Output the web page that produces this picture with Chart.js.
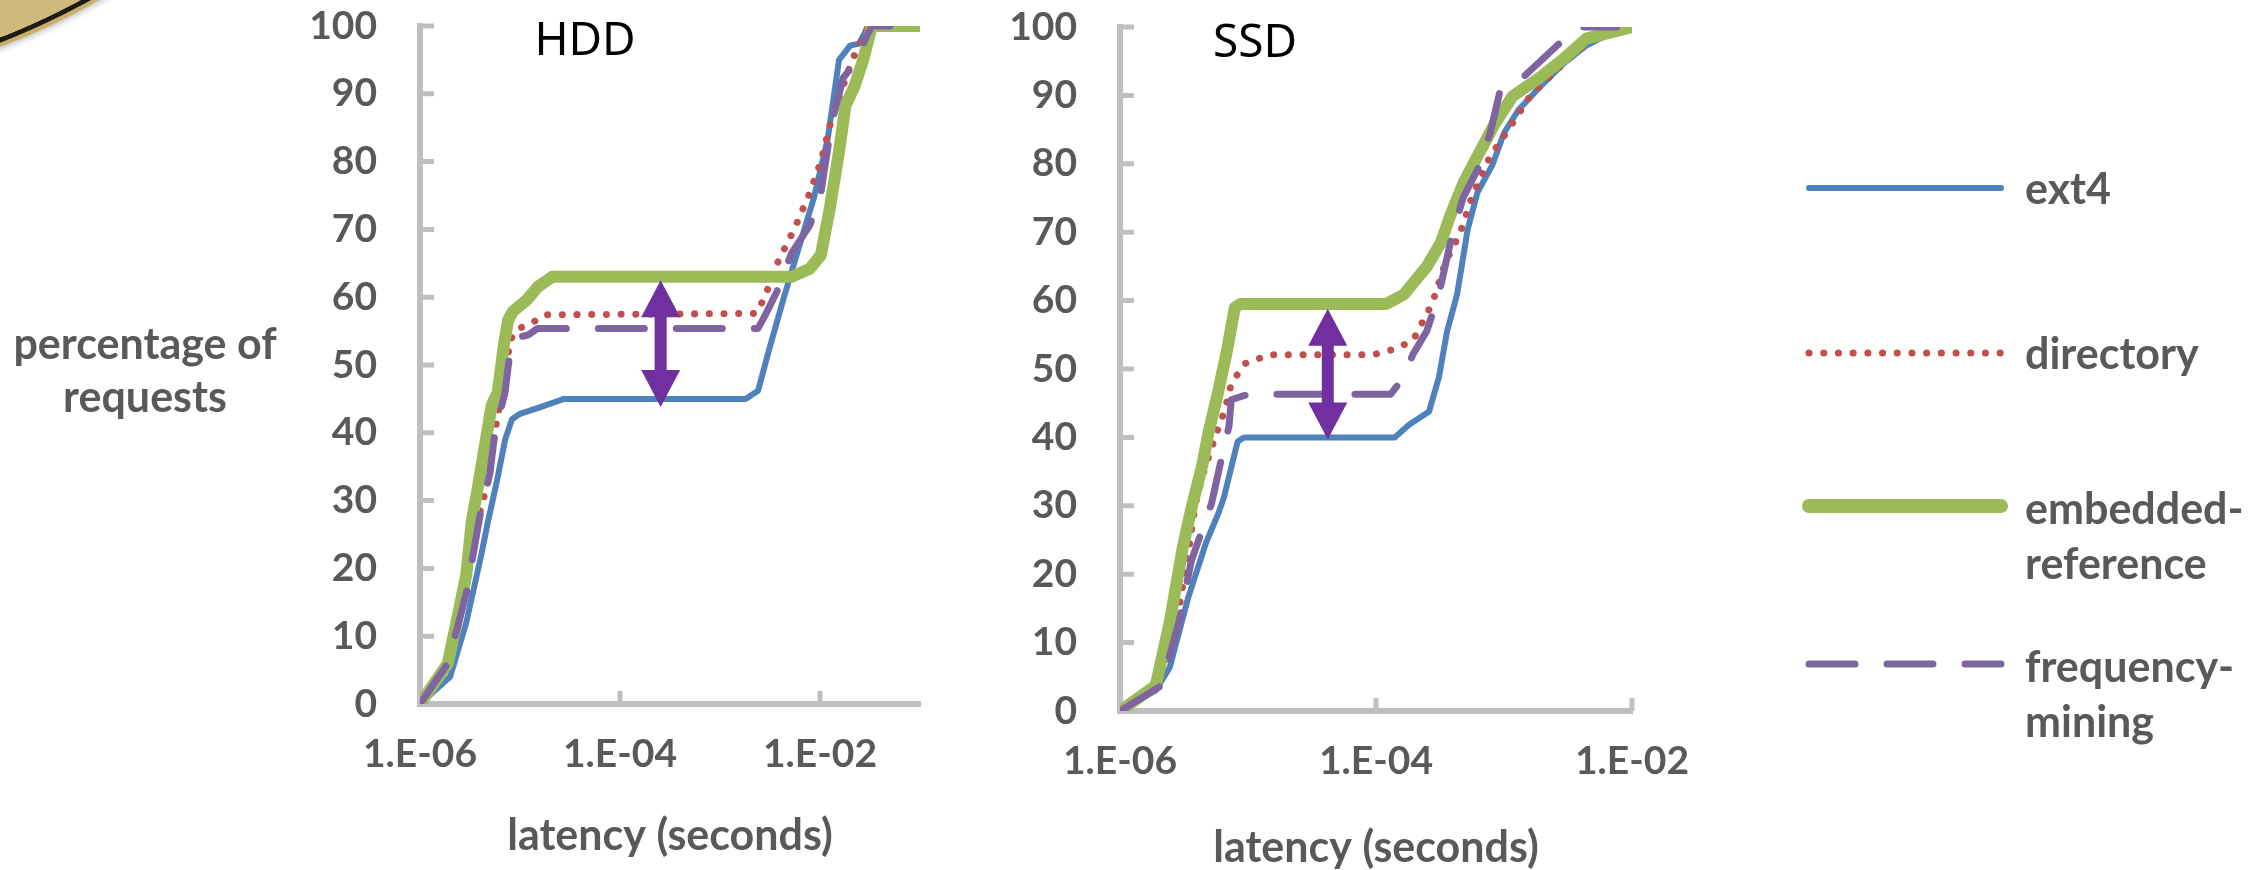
<!DOCTYPE html>
<html>
<head>
<meta charset="utf-8">
<script src="https://cdn.jsdelivr.net/npm/chart.js@4.4.1/dist/chart.umd.min.js"></script>
<style>
html,body{margin:0;padding:0;background:#fff;}
#page{position:relative;width:2258px;height:870px;overflow:hidden;font-family:Lato,sans-serif;}
#coin{position:absolute;left:-973px;top:-1342px;width:1428px;height:1428px;border-radius:50%;
  background:radial-gradient(circle at 60% 60%,#d9c68c 0%,#c4ac6a 90%,#b59a55 100%);
  box-shadow:0 0 0 5px #1c1a14,0 0 0 9px #c9b06a,0 0 6px 11px rgba(0,0,0,0.25);}
canvas{position:absolute;top:0;}
#hdd{left:250px;}
#ssd{left:1000px;}
.ttl{position:absolute;font-family:"Noto Sans",sans-serif;font-size:46px;line-height:1;color:#000;transform:translate(-50%,-50%);}
#ylab{position:absolute;left:145px;top:369px;transform:translate(-50%,-50%);text-align:center;font-weight:bold;font-size:43px;line-height:53px;color:#595959;white-space:nowrap;}
.lg{position:absolute;left:2025px;font-weight:bold;font-size:43px;line-height:55px;color:#595959;white-space:nowrap;}
#legsvg{position:absolute;left:0;top:0;}
</style>
</head>
<body>
<div id="page">
  <div id="coin"></div>
  <canvas id="hdd" width="750" height="870"></canvas>
  <canvas id="ssd" width="700" height="870"></canvas>
  <div class="ttl" style="left:585px;top:37px;">HDD</div>
  <div class="ttl" style="left:1255px;top:39px;">SSD</div>
  <div id="ylab">percentage of<br>requests</div>
  <svg id="legsvg" width="2258" height="870"></svg>
  <div class="lg" style="top:160px;">ext4</div>
  <div class="lg" style="top:325px;">directory</div>
  <div class="lg" style="top:480px;">embedded-<br>reference</div>
  <div class="lg" style="top:638px;">frequency-<br>mining</div>
</div>
<script>
// latency (s), percentage of requests
const hddExt4 = [[1e-6,0],[2e-6,4],[2.9e-6,12],[4.1e-6,22],[4.8e-6,27],[5.9e-6,33],[7.1e-6,39],[8.3e-6,42],[1e-5,42.8],[1.6e-5,43.8],[2.3e-5,44.6],[2.75e-5,45],[1.8e-3,45],[2.4e-3,46.2],[3.1e-3,52.3],[4.3e-3,59.7],[5.75e-3,65.9],[8.7e-3,74.7],[1.2e-2,83.5],[1.55e-2,95],[2e-2,97.1],[2.45e-2,97.4],[3e-2,99.8],[3.3e-2,100]];
const hddDirectory = [[1e-6,0],[1.9e-6,5.5],[2.9e-6,17],[3.6e-6,26],[4.5e-6,31.3],[5.9e-6,42],[7.4e-6,50],[7.9e-6,53.6],[9.5e-6,55.3],[1.35e-5,56.3],[1.75e-5,57.4],[2.3e-3,57.6],[2.8e-3,60],[3.8e-3,65.2],[5.75e-3,70.6],[7.9e-3,75.4],[1.02e-2,80],[1.3e-2,86.2],[2.1e-2,95],[3e-2,99.8],[5e-2,100]];
const hddEmbedded = [[1e-6,0],[1.9e-6,6],[2.9e-6,19],[3.3e-6,27],[3.9e-6,33],[5.2e-6,44],[6e-6,46],[6.9e-6,53],[7.6e-6,56.6],[8.5e-6,57.9],[1.17e-5,59.6],[1.5e-5,61.5],[2.1e-5,63],[5.2e-3,63],[7.9e-3,64.2],[1.02e-2,66.2],[1.26e-2,73.3],[1.55e-2,81.5],[1.8e-2,88.3],[2.2e-2,91],[2.7e-2,95],[3.3e-2,100],[1e-1,100]];
const hddFrequency = [[1e-6,0],[1.9e-6,6],[2.9e-6,16.3],[4e-6,28],[5e-6,34],[5.6e-6,40],[7.1e-6,46],[7.9e-6,51.7],[8.9e-6,54],[1.2e-5,54.4],[1.5e-5,55.4],[2.4e-3,55.4],[2.8e-3,57.2],[3.7e-3,60.8],[5.2e-3,66.5],[7.9e-3,70.6],[1.02e-2,75.4],[1.3e-2,85.5],[1.7e-2,92.3],[2.2e-2,94.4],[2.9e-2,98.4],[3.3e-2,100],[5e-2,100]];

const ssdExt4 = [[1e-6,0],[1.9e-6,3],[2.45e-6,6.4],[3.4e-6,16.5],[4.7e-6,24.6],[5.9e-6,29],[6.5e-6,31.3],[8.3e-6,39.4],[9.3e-6,40],[1.4e-4,40],[1.8e-4,41.8],[2.6e-4,43.8],[3.1e-4,48.8],[3.6e-4,55.6],[4.3e-4,60.9],[5.2e-4,70.4],[6.2e-4,75.8],[8.1e-4,79.8],[1e-3,84.5],[1.3e-3,87.9],[1.9e-3,91.2],[2.9e-3,94.6],[4.4e-3,97.3],[7.1e-3,99.3],[1e-2,100]];
const ssdDirectory = [[1e-6,0],[1.9e-6,3.4],[2.6e-6,9.8],[3.4e-6,23],[3.9e-6,30.4],[4.4e-6,34.3],[5.5e-6,39.9],[6.6e-6,44],[7.4e-6,47.9],[9.5e-6,50.8],[1.2e-5,51.5],[1.5e-5,52.1],[9.5e-5,52.1],[1.4e-4,52.9],[1.95e-4,54.2],[2.75e-4,59.6],[3.5e-4,65.7],[4.5e-4,69.7],[5.6e-4,75.1],[7.8e-4,81.1],[1.1e-3,85.2],[1.6e-3,89.9],[2.9e-3,94.6],[5.1e-3,98.7],[8.3e-3,100]];
const ssdEmbedded = [[1e-6,0],[1.9e-6,3.7],[2.45e-6,13],[3.1e-6,24],[3.6e-6,29.5],[4.4e-6,36],[4.9e-6,40.6],[5.9e-6,47],[6.9e-6,53],[7.9e-6,59],[8.7e-6,59.5],[1.2e-4,59.5],[1.65e-4,60.9],[2.5e-4,65],[3.2e-4,68.4],[3.8e-4,72.4],[4.8e-4,77.1],[6.2e-4,81.1],[8.5e-4,85.9],[1.17e-3,89.9],[1.9e-3,92.6],[2.9e-3,95.3],[4.4e-3,98.3],[1e-2,100]];
const ssdFrequency = [[1e-6,0],[2.1e-6,3.7],[2.9e-6,13.1],[3.6e-6,21.9],[5.2e-6,30.4],[6.2e-6,36.9],[7.1e-6,41.6],[7.4e-6,45.5],[1e-5,46.3],[1.3e-4,46.3],[1.6e-4,48.5],[1.95e-4,52.2],[2.5e-4,55.6],[3.1e-4,60.9],[3.8e-4,68.4],[4.8e-4,75.1],[6.2e-4,79.1],[7.8e-4,84.5],[9.3e-4,90.6],[1.4e-3,92.6],[2.6e-3,97.3],[3.7e-3,100],[7.6e-3,100]];

// double arrows: [latency, low %, high %]
const hddArrow = [2.55e-4, 43.8, 62.5];
const ssdArrow = [4.2e-5, 39.7, 58.8];

const xTicks = [1e-6, 1e-4, 1e-2];
const seriesNames = ['ext4', 'directory', 'embedded-reference', 'frequency-mining'];

const gray = '#BFBFBF', txt = '#595959';
const colors = {ext4:'#4F81BD', dir:'#C0504D', emb:'#9BBB59', freq:'#8064A2'};

function fmt(v){
  const e = Math.round(Math.log10(v));
  return '1.E' + (e < 0 ? '-' : '+') + String(Math.abs(e)).padStart(2, '0');
}
const pts = arr => arr.map(p => ({x:p[0], y:p[1]}));

const innerTicks = {
  id:'innerTicks',
  beforeDatasetsDraw(chart){
    const {ctx, chartArea:a, scales:{x, y}} = chart;
    ctx.save();
    ctx.strokeStyle = gray; ctx.lineWidth = 5;
    ctx.beginPath();
    y.ticks.forEach(t => { const py = y.getPixelForValue(t.value); ctx.moveTo(a.left, py); ctx.lineTo(a.left + 14, py); });
    x.ticks.forEach(t => { const px = x.getPixelForValue(t.value); ctx.moveTo(px, a.bottom); ctx.lineTo(px, a.bottom - 13); });
    ctx.stroke();
    ctx.restore();
  }
};

const doubleArrow = {
  id:'doubleArrow',
  afterDatasetsDraw(chart, args, o){
    if (!o.at) return;
    const {ctx, scales:{x, y}} = chart;
    const px = x.getPixelForValue(o.at[0]);
    const yb = y.getPixelForValue(o.at[1]), yt = y.getPixelForValue(o.at[2]);
    const hw = 19.5, hl = 37, sw = 6;
    ctx.save();
    ctx.fillStyle = '#7030A0';
    ctx.beginPath();
    ctx.moveTo(px, yt);
    ctx.lineTo(px + hw, yt + hl); ctx.lineTo(px + sw, yt + hl);
    ctx.lineTo(px + sw, yb - hl); ctx.lineTo(px + hw, yb - hl);
    ctx.lineTo(px, yb);
    ctx.lineTo(px - hw, yb - hl); ctx.lineTo(px - sw, yb - hl);
    ctx.lineTo(px - sw, yt + hl); ctx.lineTo(px - hw, yt + hl);
    ctx.closePath(); ctx.fill();
    ctx.restore();
  }
};

function makeChart(id, series, xMax, yAxisW, xAxisH, padTop, padRight, titlePad, arrow){
  const ds = [
    {label:seriesNames[0], data:pts(series[0]), borderColor:colors.ext4, borderWidth:6, order:4},
    {label:seriesNames[1], data:pts(series[1]), borderColor:colors.dir, borderWidth:7, borderDash:[0.1, 14.6], borderCapStyle:'round', order:3},
    {label:seriesNames[2], data:pts(series[2]), borderColor:colors.emb, borderWidth:12, order:2},
    {label:seriesNames[3], data:pts(series[3]), borderColor:colors.freq, borderWidth:7, borderDash:[46, 32], borderCapStyle:'round', order:1}
  ];
  ds.forEach(d => { d.pointRadius = 0; d.tension = 0; d.fill = false; d.borderJoinStyle = 'round'; });
  return new Chart(document.getElementById(id), {
    type:'line',
    data:{datasets:ds},
    options:{
      responsive:false, animation:false, devicePixelRatio:1,
      layout:{padding:{top:padTop, right:padRight, bottom:0, left:0}},
      plugins:{legend:{display:false}, tooltip:{enabled:false}, doubleArrow:{at:arrow}},
      scales:{
        x:{type:'logarithmic', min:1e-6, max:xMax,
          afterBuildTicks:s => { s.ticks = xTicks.map(v => ({value:v})); },
          afterFit:s => { s.height = xAxisH; s.paddingLeft = 0; s.paddingRight = 0; },
          grid:{display:false, drawTicks:false},
          border:{display:true, color:gray, width:6},
          ticks:{callback:fmt, autoSkip:false, maxRotation:0, padding:27, color:txt, font:{family:'Lato', weight:'bold', size:39}},
          title:{display:true, text:'latency (seconds)', color:txt, padding:{top:0, bottom:titlePad}, font:{family:'Lato', weight:'bold', size:43, lineHeight:1}}
        },
        y:{min:0, max:100,
          afterFit:s => { s.width = yAxisW; s.paddingTop = 0; s.paddingBottom = 0; },
          grid:{display:false, drawTicks:false},
          border:{display:true, color:gray, width:6},
          ticks:{stepSize:10, padding:43, color:txt, font:{family:'Lato', weight:'bold', size:39}}
        }
      }
    },
    plugins:[innerTicks, doubleArrow]
  });
}

makeChart('hdd', [hddExt4, hddDirectory, hddEmbedded, hddFrequency], 1e-1, 170, 166, 26, 80, 12, hddArrow);
makeChart('ssd', [ssdExt4, ssdDirectory, ssdEmbedded, ssdFrequency], 1e-2, 120, 159, 27, 68, 0, ssdArrow);

// legend samples
const svg = document.getElementById('legsvg');
const legendRows = [
  {y:188, c:colors.ext4, w:6, dash:null},
  {y:353, c:colors.dir, w:7, dash:'0.1 14.6'},
  {y:506, c:colors.emb, w:14, dash:null},
  {y:664, c:colors.freq, w:7, dash:'46 32'}
];
legendRows.forEach(r => {
  const l = document.createElementNS('http://www.w3.org/2000/svg', 'line');
  l.setAttribute('x1', 1809); l.setAttribute('x2', 2001);
  l.setAttribute('y1', r.y); l.setAttribute('y2', r.y);
  l.setAttribute('stroke', r.c); l.setAttribute('stroke-width', r.w);
  l.setAttribute('stroke-linecap', 'round');
  if (r.dash) l.setAttribute('stroke-dasharray', r.dash);
  svg.appendChild(l);
});
</script>
</body>
</html>
